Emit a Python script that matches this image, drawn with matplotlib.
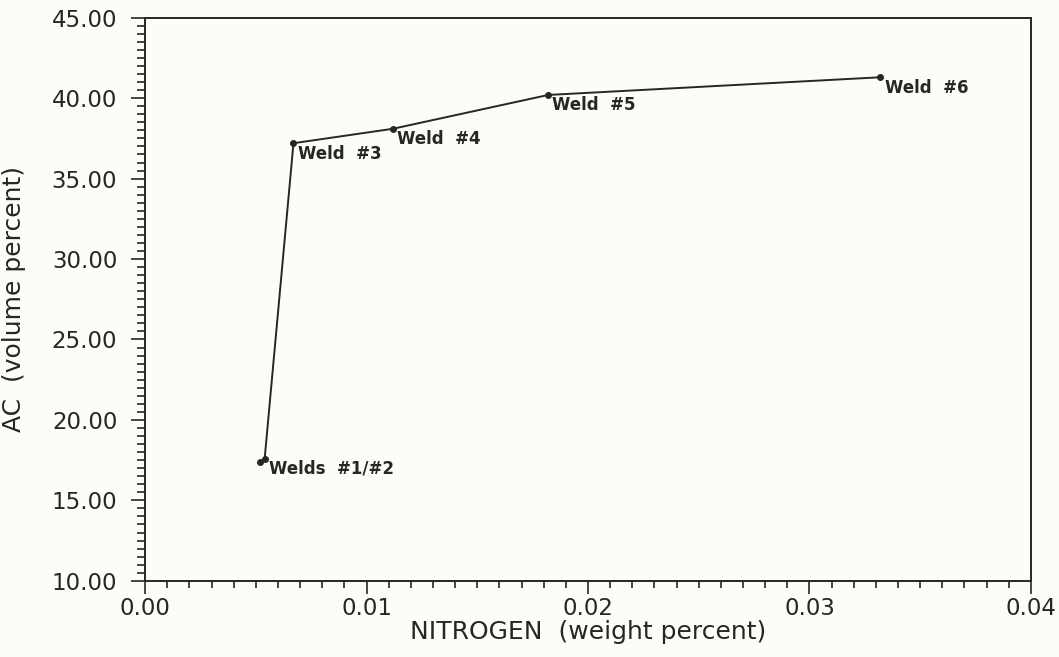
import numpy as np
import matplotlib.pyplot as plt
from matplotlib.ticker import MultipleLocator, FormatStrFormatter

# nitrogen content vs AC volume for each weld
nitrogen = [0.0052, 0.0054, 0.0067, 0.0112, 0.0182, 0.0332]
ac_volume = [17.4, 17.6, 37.2, 38.1, 40.2, 41.3]
labels = ['', 'Welds  #1/#2', 'Weld  #3', 'Weld  #4', 'Weld  #5', 'Weld  #6']

ink = '#262626'
bg = '#fdfdf7'

fig = plt.figure(figsize=(10.59, 6.57), dpi=100, facecolor=bg)
ax = fig.add_axes([0.137, 0.116, 0.8365, 0.857], facecolor=bg)

ax.plot(nitrogen, ac_volume, '-o', color=ink, lw=1.4, ms=4)
for x, y, s in zip(nitrogen, ac_volume, labels):
    if s:
        ax.annotate(s, (x, y), xytext=(3, -1), textcoords='offset points',
                    ha='left', va='top', fontsize=12, fontweight='bold', color=ink)

ax.set_xlim(0, 0.04)
ax.set_ylim(10, 45)
ax.xaxis.set_major_locator(MultipleLocator(0.01))
ax.xaxis.set_minor_locator(MultipleLocator(0.001))
ax.yaxis.set_major_locator(MultipleLocator(5))
ax.yaxis.set_minor_locator(MultipleLocator(0.5))
ax.xaxis.set_major_formatter(FormatStrFormatter('%.2f'))
ax.yaxis.set_major_formatter(FormatStrFormatter('%.2f'))

ax.tick_params(which='both', direction='out', color=ink, labelcolor=ink,
               labelsize=16.5, top=False, right=False, width=1.2)
ax.tick_params(axis='x', which='major', length=9, pad=3)
ax.tick_params(axis='x', which='minor', length=5)
ax.tick_params(axis='y', which='major', length=10, pad=10)
ax.tick_params(axis='y', which='minor', length=6)
for sp in ax.spines.values():
    sp.set_color(ink)
    sp.set_linewidth(1.4)

ax.set_xlabel('NITROGEN  (weight percent)', fontsize=18, color=ink, labelpad=0)
ax.set_ylabel('AC  (volume percent)', fontsize=18, color=ink)
ax.yaxis.set_label_coords(-0.134, 0.5)

fig.savefig('out.png', dpi=100, facecolor=bg)
